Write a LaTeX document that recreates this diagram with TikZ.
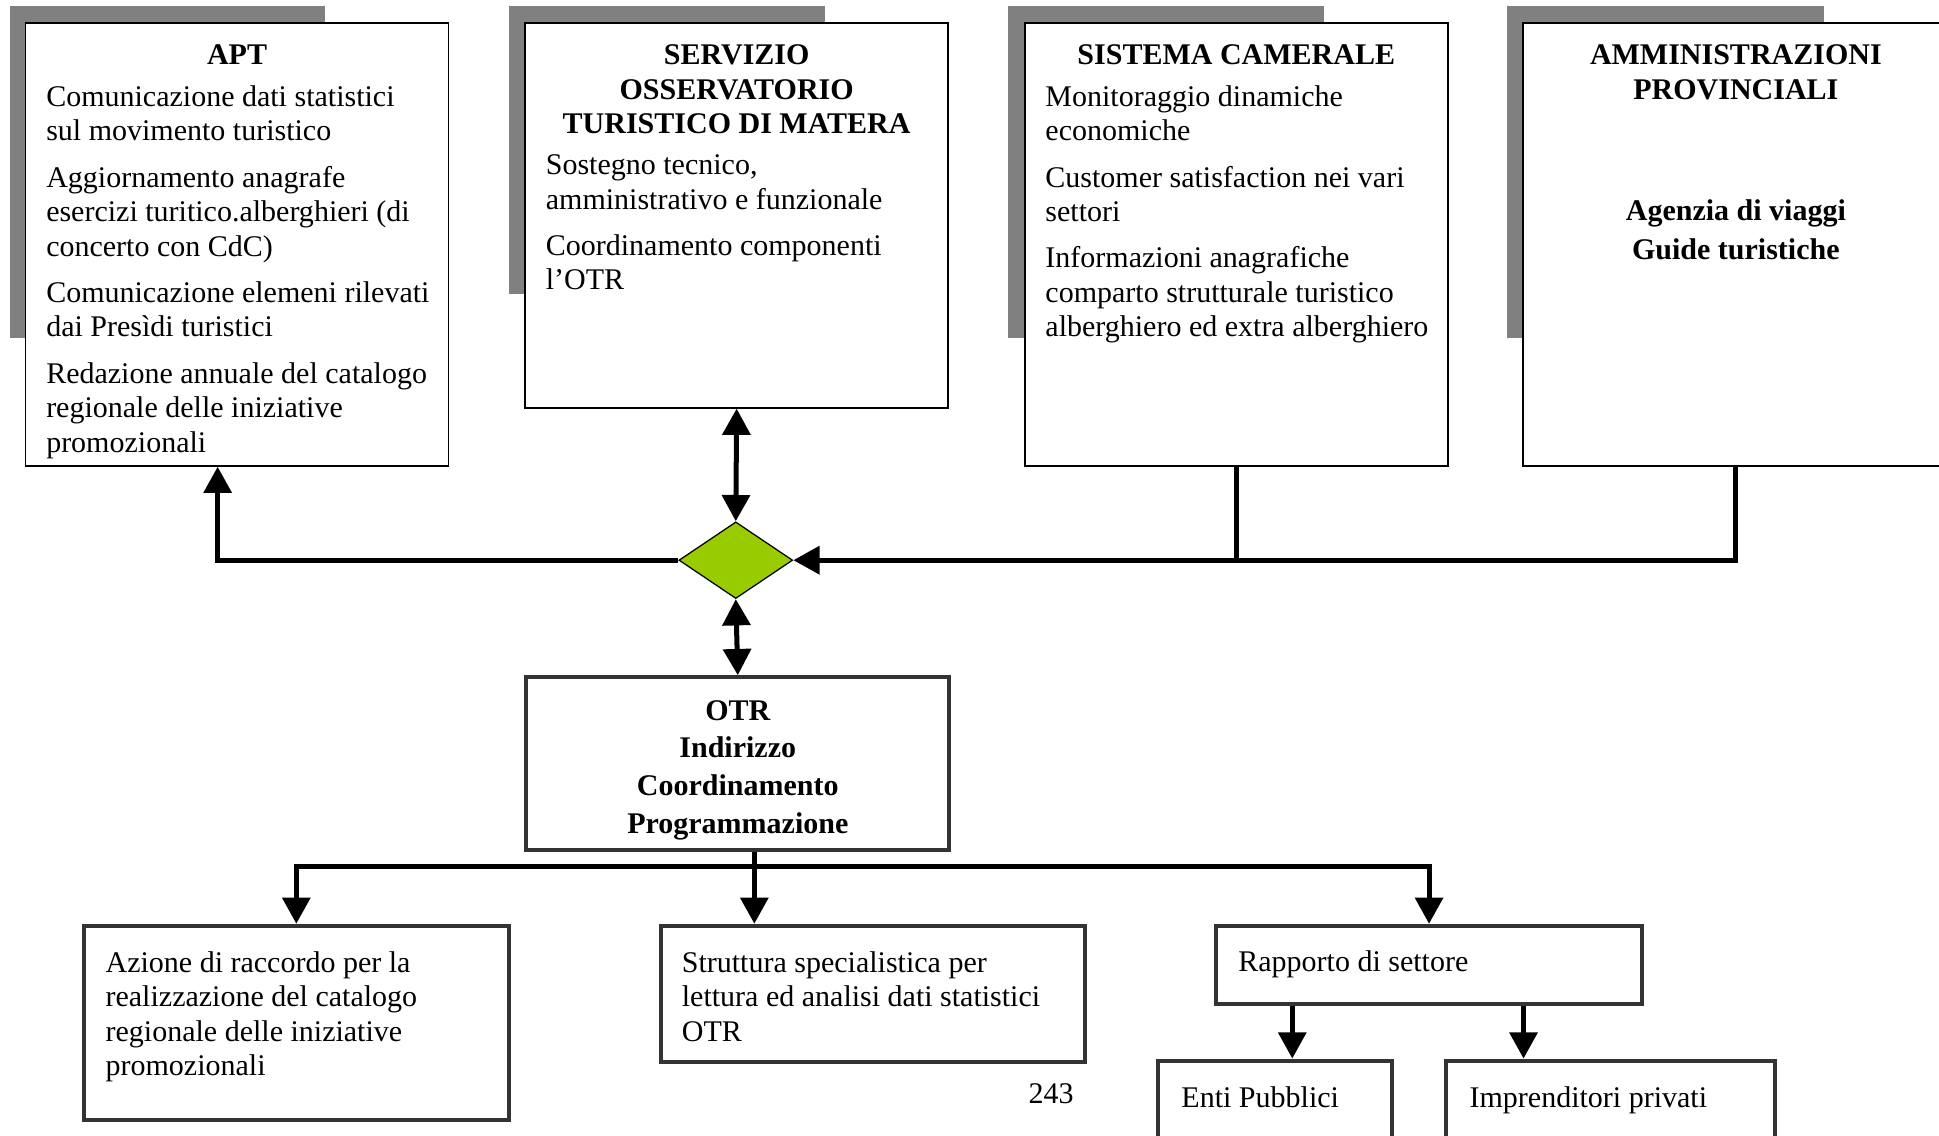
\documentclass[tikz,border=0pt]{standalone}
\usepackage{fontspec}
\setmainfont{Liberation Serif}
\usetikzlibrary{arrows.meta,shapes.geometric,positioning}
\definecolor{leaf}{HTML}{99CC00}
\newcommand{\pxu}{0.4946pt}
\newcommand{\tstrut}{\rule{0pt}{10pt}}
\tikzset{
    box/.style={draw, line width=0.7pt, fill=white, anchor=north west, inner sep=0pt},
    tbox/.style={draw=black!80, line width=1.6pt, fill=white, anchor=north west, inner sep=0pt},
    hd/.style={font=\bfseries\fontsize{12}{13.85}\selectfont, align=center, anchor=north, yshift=10pt, inner sep=0pt, execute at begin node=\tstrut},
    txt/.style={align=left, anchor=north west, yshift=10pt, inner sep=0pt, execute at begin node=\tstrut},
    backbar/.style={fill=black!50},
    conn/.style={line width=2pt},
    arr/.style={conn, -{Triangle[length=10.5pt,width=11pt]}},
    arrs/.style={conn, {Triangle[length=10.5pt,width=11pt]}-{Triangle[length=10.5pt,width=11pt]}}
}
\begin{document}
\begin{tikzpicture}[x=\pxu, y=-\pxu, font=\fontsize{12}{13.8}\selectfont]
\useasboundingbox (0,0) rectangle (1568,918);
\clip (0,0) rectangle (1568,918);
\fill[backbar] (8,5) rectangle (263,273);
\fill[backbar] (412,5) rectangle (667,238);
\fill[backbar] (815,5) rectangle (1071,273);
\fill[backbar] (1219,5) rectangle (1475,273);
\node(A) [box, minimum width=342*\pxu, minimum height=358*\pxu] at (20,18) {};
\node(S) [box, minimum width=342*\pxu, minimum height=311*\pxu] at (424,18) {};
\node(C) [box, minimum width=342*\pxu, minimum height=358*\pxu] at (828,18) {};
\node(P) [box, minimum width=344*\pxu, minimum height=358*\pxu] at (1231,18) {};
\node(At) [hd] at (A.north |- 0,52) {APT};
\node(Ab) [txt] at (37,89) {Comunicazione dati statistici\\sul movimento turistico\\[4.7pt]Aggiornamento anagrafe\\esercizi turitico.alberghieri (di\\concerto con CdC)\\[4.7pt]Comunicazione elemeni rilevati\\dai Presìdi turistici\\[4.7pt]Redazione annuale del catalogo\\regionale delle iniziative\\promozionali};
\node(St) [hd] at (S.north |- 0,56) {SERVIZIO\\OSSERVATORIO\\TURISTICO DI MATERA};
\node(Sb) [txt] at (441,145) {Sostegno tecnico,\\amministrativo e funzionale\\[4.7pt]Coordinamento componenti\\l’OTR};
\node(Ct) [hd] at (C.north |- 0,52) {SISTEMA CAMERALE};
\node(Cb) [txt] at (845,89) {Monitoraggio dinamiche\\economiche\\[4.7pt]Customer satisfaction nei vari\\settori\\[4.7pt]Informazioni anagrafiche\\comparto strutturale turistico\\alberghiero ed extra alberghiero};
\node(Pt) [hd] at (P.north |- 0,56) {AMMINISTRAZIONI\\PROVINCIALI};
\node(Pb) [hd, font=\bfseries\fontsize{12}{15.8}\selectfont] at (P.north |- 0,181) {Agenzia di viaggi\\Guide turistiche};
\node(D) [diamond, draw, line width=0.5pt, fill=leaf, minimum width=92*\pxu, minimum height=62*\pxu, inner sep=0pt] at (595,453) {};
\node(O) [tbox, minimum width=342*\pxu, minimum height=140*\pxu] at (424,546) {};
\node(Ot) [hd, font=\bfseries\fontsize{12}{15.1}\selectfont] at (O.north |- 0,586) {OTR\\Indirizzo\\Coordinamento\\Programmazione};
\coordinate (a1) at (176,0);
\draw[arrs] (S.south) -- (D.north);
\draw[arrs] (D.south) -- (O.north);
\draw[arr] (D.west) -| (A.south -| a1);
\draw[arr] (P.south) |- (D.east);
\draw[conn] (C.south) -- (C.south |- D.east);
\node(O1) [tbox, minimum width=344*\pxu, minimum height=157*\pxu] at (66,747) {};
\node(O2) [tbox, minimum width=343*\pxu, minimum height=110*\pxu] at (533,747) {};
\node(O3) [tbox, minimum width=344*\pxu, minimum height=63*\pxu] at (982,747) {};
\node(R1) [tbox, minimum width=189*\pxu, minimum height=80*\pxu] at (935,856) {};
\node(R2) [tbox, minimum width=266*\pxu, minimum height=80*\pxu] at (1168,856) {};
\coordinate (B) at (610,701);
\coordinate (r1) at (1045,0);
\coordinate (r2) at (1232,0);
\draw[conn] (O.south -| B) -- (B);
\draw[arr] (B) -| (O1.north);
\draw[arr] (B) -- (B |- O2.north);
\draw[arr] (B) -| (O3.north);
\draw[arr] (O3.south -| r1) -- (R1.north -| r1);
\draw[arr] (O3.south -| r2) -- (R2.north -| r2);
\node(O1t) [txt] at (85,789) {Azione di raccordo per la\\realizzazione del catalogo\\regionale delle iniziative\\promozionali};
\node(O2t) [txt] at (551,789) {Struttura specialistica per\\lettura ed analisi dati statistici\\OTR};
\node(O3t) [txt] at (1001,785) {Rapporto di settore};
\node(R1t) [txt] at (955,895) {Enti Pubblici};
\node(R2t) [txt] at (1188,895) {Imprenditori privati};
\node(N) [anchor=base, inner sep=0pt] at (850,892) {243};
\end{tikzpicture}
\end{document}
